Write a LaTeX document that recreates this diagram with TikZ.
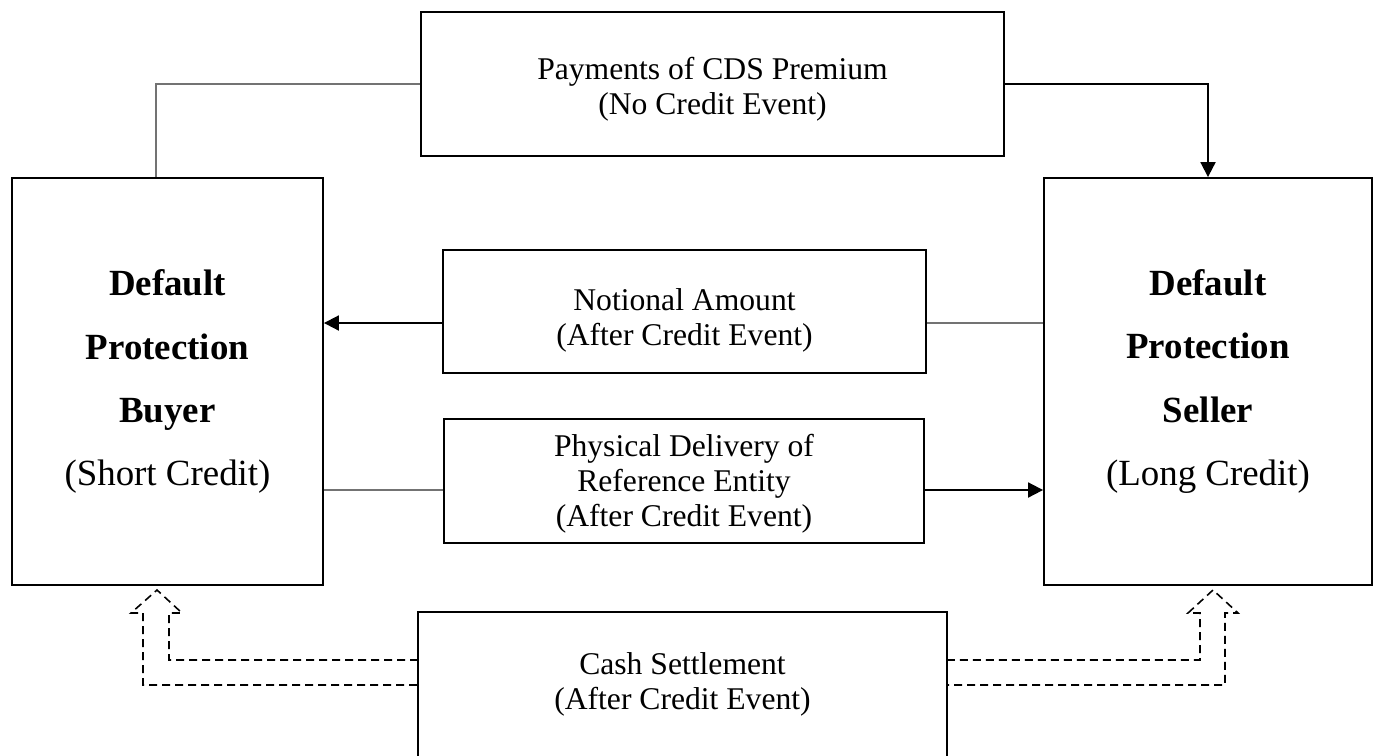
\documentclass[tikz,border=0pt]{standalone}
\usepackage{fontspec}
\setmainfont{Liberation Serif}
\usetikzlibrary{arrows.meta,positioning}

\begin{document}
\begin{tikzpicture}[x=0.02cm, y=-0.02cm,
    box/.style={draw, line width=1.1pt, inner sep=0pt, align=center, font=\fontsize{18}{19.9}\selectfont},
    boxtext/.style={inner sep=0pt, align=center, font=\fontsize{18}{19.9}\selectfont},
    party/.style={draw, line width=1.1pt, inner sep=0pt, align=center, minimum height=8.14cm, font=\fontsize{21}{35.9}\selectfont},
    thinline/.style={black!55, line width=0.7pt},
    flow/.style={line width=1.1pt, -{Triangle[length=0.3cm,width=0.3cm]}},
    hollow/.style={dash pattern=on 0.16cm off 0.1cm, line width=0.9pt}]
    \useasboundingbox (0,0) rectangle (1378,755);

    % Counterparties
    \node[party, minimum width=6.22cm] (buyer) at (167.5,381.5) {\textbf{Default}\\\textbf{Protection}\\\textbf{Buyer}\\(Short Credit)};
    \node[party, minimum width=6.56cm] (seller) at (1208,381.5) {\textbf{Default}\\\textbf{Protection}\\\textbf{Seller}\\(Long Credit)};

    % Flows between them
    \node[box, minimum width=11.66cm, minimum height=2.88cm] (prem) at (712.5,84) {};
    \node[boxtext] (prem-text) at ([yshift=-0.1cm]prem.center) {Payments of CDS Premium\\(No Credit Event)};
    \node[box, minimum width=9.66cm, minimum height=2.46cm] (notional) at (684.5,311.5) {};
    \node[boxtext] (notional-text) at ([yshift=-0.17cm]notional.center) {Notional Amount\\(After Credit Event)};
    \node[box, minimum width=9.6cm, minimum height=2.48cm] (delivery) at (684,481) {};
    \node[boxtext] (delivery-text) at ([yshift=-0.06cm]delivery.center) {Physical Delivery of\\Reference Entity\\(After Credit Event)};
    \node[box, draw=none, minimum width=10.54cm, minimum height=2.84cm] (cash) at (682.5,684) {Cash Settlement\\(After Credit Event)};
    \draw[line width=1.1pt] (cash.south west) -- (cash.north west) -- (cash.north east) -- (cash.south east);

    % Premium payments
    \draw[thinline] (prem.west) -| ([xshift=-0.23cm]buyer.north);
    \draw[flow] (prem.east) -| (seller.north);

    % Notional amount
    \coordinate (n1) at ([yshift=-0.23cm]notional.west);
    \coordinate (n2) at ([yshift=-0.23cm]notional.east);
    \draw[flow] (n1) -- (n1 -| buyer.east);
    \draw[thinline] (n2) -- (n2 -| seller.west);

    % Physical delivery
    \coordinate (d1) at ([yshift=-0.18cm]delivery.west);
    \coordinate (d2) at ([yshift=-0.18cm]delivery.east);
    \draw[thinline] (d1) -- (d1 -| buyer.east);
    \draw[flow] (d2) -- (d2 -| seller.west);

    % Cash settlement (hollow dashed arrows)
    \draw[hollow] (cash.west |- 0,660) -- (169,660) -- (169,613) -- (182,613) -- (157,590) -- (131,613) -- (143,613) -- (143,685) -- (cash.west |- 0,685);
    \draw[hollow] (cash.east |- 0,660) -- (1200,660) -- (1200,613) -- (1188,613) -- (1213,590) -- (1238,613) -- (1225,613) -- (1225,685) -- (cash.east |- 0,685);
\end{tikzpicture}
\end{document}
